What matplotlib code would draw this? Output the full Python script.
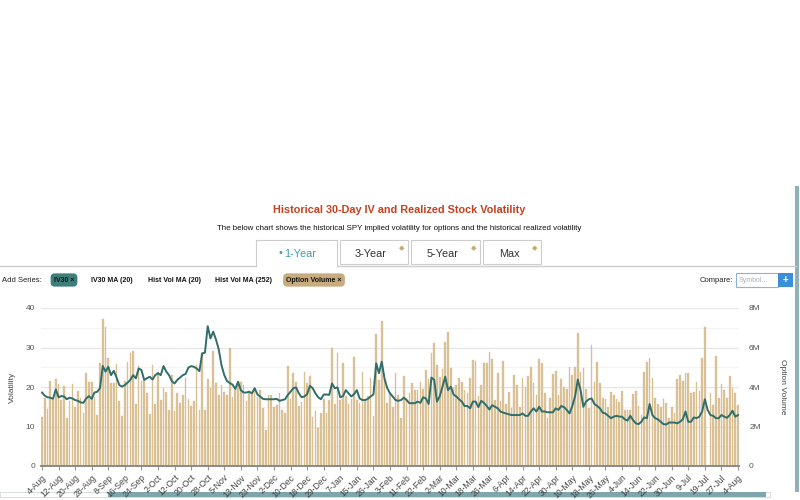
import matplotlib
matplotlib.use("Agg")
import matplotlib.pyplot as plt
from matplotlib.patches import Rectangle
import numpy as np

plt.rcParams.update({
    "font.family": ["Liberation Sans", "DejaVu Sans"],
    "axes.unicode_minus": False,
})

W, H = 800, 500

# --- data: one bar / point per trading day, 4-Aug to 4-Aug ---
tick_labels = [
    "4-Aug", "12-Aug", "20-Aug", "28-Aug", "8-Sep", "16-Sep", "24-Sep", "2-Oct",
    "12-Oct", "20-Oct", "28-Oct", "5-Nov", "13-Nov", "23-Nov", "2-Dec", "10-Dec",
    "18-Dec", "29-Dec", "7-Jan", "15-Jan", "26-Jan", "3-Feb", "11-Feb", "22-Feb",
    "2-Mar", "10-Mar", "18-Mar", "26-Mar", "6-Apr", "14-Apr", "22-Apr", "30-Apr",
    "10-May", "18-May", "26-May", "4-Jun", "14-Jun", "22-Jun", "30-Jun", "9-Jul",
    "19-Jul", "27-Jul", "4-Aug",
]
tick_step = 6

# option volume, millions
option_volume = [
    2.50, 3.42, 2.88, 4.32, 3.34, 4.40, 4.14, 3.34, 4.06, 2.42, 3.30, 4.14, 3.00, 3.80, 3.46, 2.66,
    4.70, 4.26, 4.26, 3.48, 2.58, 5.24, 7.44, 7.06, 5.46, 4.18, 4.20, 5.16, 3.30, 2.54, 4.30, 5.28,
    5.74, 5.80, 3.14, 5.06, 4.30, 4.36, 3.68, 2.64, 5.12, 3.14, 4.78, 3.34, 3.94, 3.76, 2.84, 4.60,
    2.80, 3.68, 3.20, 3.60, 4.48, 3.38, 3.04, 3.30, 5.10, 2.84, 5.72, 2.86, 4.40, 3.94, 5.80,
    4.20, 3.62, 4.10, 3.76, 3.62, 5.96, 3.48, 3.86, 4.30, 4.26, 4.10, 3.30, 3.80, 3.76, 3.84, 3.48,
    3.84, 2.92, 1.82, 3.60, 3.60, 3.00, 3.08, 3.70, 2.84, 2.66, 5.08, 3.40, 4.72, 4.26, 3.04, 3.26,
    4.78, 4.22, 4.56, 2.50, 2.78, 1.90, 2.70, 3.38, 2.70, 3.34, 5.96, 3.12, 5.74, 3.34, 5.24, 3.52,
    3.12, 3.40, 5.54, 3.34, 3.18, 4.78, 3.38, 3.52, 4.48, 2.54, 6.68, 4.36, 7.36, 4.40, 3.18, 3.68,
    3.00, 4.70, 3.60, 2.44, 4.56, 3.46, 3.72, 4.22, 3.84, 3.84, 4.26, 3.88, 4.86, 4.38, 5.70, 6.22,
    5.12, 4.52, 4.90, 6.30, 6.80, 4.98, 4.02, 4.10, 4.44, 4.26, 3.84, 3.72, 4.48, 5.36, 5.32, 3.54,
    4.10, 5.20, 5.20, 5.78, 5.40, 3.34, 4.70, 3.30, 5.32, 3.14, 3.76, 2.92, 4.60, 4.10, 3.00, 4.48,
    3.98, 4.56, 5.02, 4.22, 3.60, 5.40, 5.20, 3.72, 2.44, 3.42, 4.66, 4.82, 3.60, 4.38, 4.02, 3.90,
    5.02, 4.60, 5.02, 6.72, 4.78, 4.94, 3.88, 2.92, 6.12, 4.26, 5.28, 4.18, 3.42, 3.38, 3.00, 3.76,
    3.60, 3.38, 3.26, 3.82, 2.86, 2.84, 2.84, 3.64, 3.82, 3.04, 2.58, 4.78, 5.28, 5.46, 4.44, 3.42,
    3.14, 3.00, 3.38, 3.18, 2.42, 3.00, 2.66, 4.38, 4.60, 4.32, 4.72, 4.72, 3.72, 3.76, 4.26, 3.82,
    5.48, 7.02, 0.00, 3.72, 3.08, 5.56, 3.46, 4.14, 3.84, 3.42, 4.56, 3.96, 3.68, 3.08,
]

# IV30, percent
iv30 = [
    18.6, 17.8, 17.4, 17.3, 17.0, 19.4, 17.4, 17.7, 17.6, 16.9, 17.3, 17.1, 16.7, 16.5, 16.1, 16.0,
    17.1, 17.7, 17.0, 18.6, 18.8, 19.7, 25.3, 23.9, 25.1, 23.0, 24.1, 22.4, 20.5, 20.1, 20.5, 21.1,
    21.8, 23.0, 22.2, 24.7, 24.3, 21.8, 22.2, 22.6, 21.9, 23.0, 23.5, 23.0, 25.3, 23.9, 23.0, 21.5,
    20.9, 21.8, 22.4, 23.0, 23.3, 24.9, 25.3, 25.1, 24.7, 24.0, 28.5, 28.7, 35.4, 32.3, 34.0,
    32.0, 29.5, 25.5, 23.0, 21.5, 21.0, 20.6, 19.5, 21.3, 19.2, 18.6, 18.6, 18.8, 18.4, 19.7, 18.1,
    17.6, 17.0, 16.9, 16.9, 16.9, 16.9, 17.0, 16.5, 16.7, 16.9, 18.0, 18.8, 19.7, 19.9, 18.4, 17.4,
    17.6, 18.2, 20.3, 19.7, 18.4, 17.4, 16.9, 18.1, 18.1, 18.0, 20.9, 19.7, 19.9, 17.4, 17.7, 19.2,
    18.4, 17.6, 18.2, 19.2, 17.1, 16.7, 16.7, 17.0, 17.6, 18.1, 26.0, 23.5, 26.4, 22.2, 19.7, 18.4,
    17.6, 16.7, 16.5, 16.7, 17.3, 16.7, 15.9, 15.9, 15.9, 16.3, 16.0, 17.4, 17.1, 15.7, 22.4, 21.8,
    16.3, 17.6, 20.1, 22.6, 19.2, 20.1, 18.1, 17.6, 16.9, 16.3, 15.2, 15.2, 14.6, 16.3, 16.3, 14.9,
    16.5, 16.0, 15.2, 14.3, 15.4, 15.0, 14.6, 13.8, 13.5, 13.3, 13.1, 12.9, 12.9, 12.9, 12.9, 13.3,
    12.7, 12.7, 13.8, 14.6, 13.8, 15.0, 13.8, 13.8, 13.6, 13.6, 13.6, 14.6, 14.2, 15.2, 14.9, 14.2,
    13.3, 15.2, 17.6, 21.9, 19.2, 15.0, 16.3, 16.9, 17.1, 15.7, 15.2, 14.6, 13.5, 13.3, 12.7, 12.1,
    12.5, 12.7, 12.5, 12.5, 11.8, 11.5, 12.7, 11.6, 10.8, 10.6, 11.2, 12.3, 12.1, 15.7, 12.9, 12.1,
    11.8, 11.2, 10.6, 10.5, 11.0, 11.0, 11.0, 10.8, 11.2, 11.8, 13.8, 11.2, 11.2, 12.3, 12.1, 12.5,
    13.8, 16.9, 14.2, 12.9, 12.7, 12.1, 12.1, 12.9, 12.5, 12.2, 12.9, 14.0, 12.5, 12.9,
]

TEAL = "#2f6e6b"
TAN = "#dcc398"
TITLE_RED = "#c8401e"
GRID = "#e6e6e6"


def fx(x):
    return x / W


def fy(y):
    return 1 - y / H


fig = plt.figure(figsize=(8, 5), dpi=100)

# --- header ---
fig.text(fx(399), fy(210), "Historical 30-Day IV and Realized Stock Volatility",
         ha="center", va="center", fontsize=7.8, fontweight="bold", color=TITLE_RED)
fig.text(fx(399), fy(229),
         "The below chart shows the historical SPY implied volatility for options and the historical realized volatility",
         ha="center", va="center", fontsize=5.7, color="#111111")

# tabs
tabs = [("1-Year", 256, 337), ("3-Year", 340, 408), ("5-Year", 411, 480), ("Max", 483, 541)]
fig.add_artist(plt.Line2D([0, fx(256)], [fy(266), fy(266)], transform=fig.transFigure, color="#cccccc", lw=1))
fig.add_artist(plt.Line2D([fx(337), fx(796)], [fy(266), fy(266)], transform=fig.transFigure, color="#cccccc", lw=1))
for i, (name, x0, x1) in enumerate(tabs):
    if i == 0:
        for xs, ys in [([x0, x0], [266, 240]), ([x0, x1], [240, 240]), ([x1, x1], [240, 266])]:
            fig.add_artist(plt.Line2D([fx(v) for v in xs], [fy(v) for v in ys],
                                      transform=fig.transFigure, color="#cccccc", lw=0.8))
        fig.text(fx((x0 + x1) / 2 + 4), fy(254), name, ha="center", va="center", fontsize=7.8, color="#3a9fa8")
        fig.text(fx((x0 + x1) / 2 - 16), fy(253), "•", ha="center", va="center", fontsize=7, color="#3a9fa8",
                 family="DejaVu Sans")
    else:
        fig.add_artist(Rectangle((fx(x0), fy(264)), fx(x1 - x0), (264 - 240) / H, transform=fig.transFigure,
                                 fc="white", ec="#cccccc", lw=0.8))
        fig.text(fx((x0 + x1) / 2 - 3), fy(254), name, ha="center", va="center", fontsize=7.8, color="#333333")
        fig.text(fx(x1 - 6), fy(248), "◆", ha="center", va="center", fontsize=5, color="#c9a66b",
                 family="DejaVu Sans")

# series row
fig.text(fx(2), fy(280), "Add Series:", ha="left", va="center", fontsize=5.5, color="#222222")
fig.text(fx(64), fy(280), "IV30 ×", ha="center", va="center", fontsize=5, fontweight="bold", color="#111111",
         bbox=dict(boxstyle="round,pad=0.45,rounding_size=0.6", fc="#3f7f7b", ec="none"))
for label, xc in [("IV30 MA (20)", 112), ("Hist Vol MA (20)", 174), ("Hist Vol MA (252)", 243)]:
    fig.text(fx(xc), fy(280), label, ha="center", va="center", fontsize=5, fontweight="bold", color="#111111")
fig.text(fx(314), fy(280), "Option Volume ×", ha="center", va="center", fontsize=5, fontweight="bold",
         color="#111111", bbox=dict(boxstyle="round,pad=0.45,rounding_size=0.6", fc="#c8ab7e", ec="none"))
fig.text(fx(733), fy(280), "Compare:", ha="right", va="center", fontsize=5.5, color="#222222")
fig.add_artist(Rectangle((fx(736), fy(287)), fx(42), 14 / H, transform=fig.transFigure,
                         fc="white", ec="#8ab4d8", lw=0.8))
fig.text(fx(739), fy(280), "Symbol...", ha="left", va="center", fontsize=5, color="#b0b0b0")
fig.add_artist(Rectangle((fx(778), fy(287)), fx(15), 14 / H, transform=fig.transFigure,
                         fc="#3b8fd9", ec="none"))
fig.text(fx(785.5), fy(280), "+", ha="center", va="center", fontsize=7, color="white", fontweight="bold")

# scrollbars
fig.add_artist(Rectangle((fx(795), fy(492)), fx(4), (492 - 186) / H, transform=fig.transFigure,
                         fc="#8fb0b6", ec="none"))
fig.add_artist(Rectangle((fx(0), fy(497)), fx(770), 5 / H, transform=fig.transFigure,
                         fc="white", ec="#cfd8da", lw=0.6))
fig.add_artist(Rectangle((fx(108), fy(497)), fx(658), 5 / H, transform=fig.transFigure,
                         fc="#7fa5ad", ec="none"))

# --- chart ---
n = len(iv30)
x = np.arange(n)
ax = fig.add_axes([fx(40.6), fy(466), fx(698.8), (466 - 308) / H])
ax2 = ax.twinx()

ax2.bar(x, option_volume, width=0.6, color=TAN, edgecolor="#d2b584", linewidth=0.2, zorder=2)
ax2.set_ylim(0, 8)
ax2.set_yticks([0, 2, 4, 6, 8])
ax2.set_yticklabels(["0", "2M", "4M", "6M", "8M"])
ax2.set_yticks([1, 3, 5, 7], minor=True)
ax2.grid(axis="y", which="major", color=GRID, lw=0.9, zorder=0)
ax2.grid(axis="y", which="minor", color="#f3f3f3", lw=0.8, zorder=0)
ax2.set_axisbelow(True)
ax2.tick_params(axis="y", which="both", length=0, labelsize=6, labelcolor="#555555", pad=7)
ax2.set_ylabel("Option Volume", fontsize=6, color="#444444", rotation=270, labelpad=18)

ax.set_zorder(ax2.get_zorder() + 1)
ax.patch.set_visible(False)
ax.plot(x, iv30, color=TEAL, lw=1.4, zorder=3)
ax.set_ylim(0, 40)
ax.set_yticks([0, 10, 20, 30, 40])
ax.tick_params(axis="y", length=0, labelsize=6, labelcolor="#555555", pad=4)
ax.set_ylabel("Volatility", fontsize=6, color="#444444", labelpad=7)

ax.set_xlim(-0.5, n - 0.5)
ticks = np.arange(0, n, tick_step)
ax.set_xticks(ticks)
ax.set_xticklabels(tick_labels, rotation=45, ha="right", rotation_mode="anchor", fontsize=6.2, color="#444444")
ax.tick_params(axis="x", length=3, color="#999999", pad=2)

for a in (ax, ax2):
    for side in ("top", "left", "right"):
        a.spines[side].set_visible(False)
    a.spines["bottom"].set_color("#8a8a8a")
    a.spines["bottom"].set_linewidth(1.2)

fig.savefig("out.png", dpi=100)
plt.close(fig)
